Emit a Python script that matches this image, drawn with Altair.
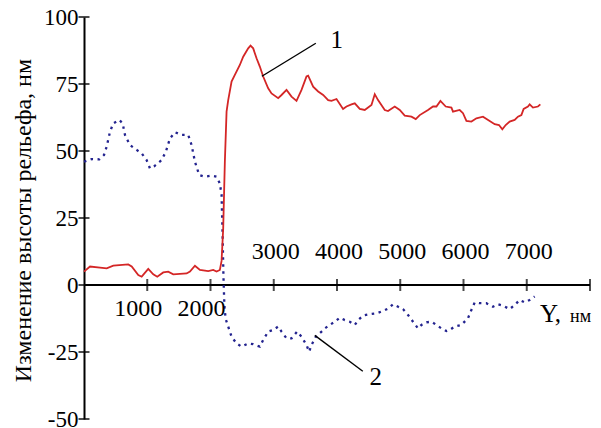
import altair as alt
import pandas as pd

# Curve 1 (red, solid)
red_x = [0, 95, 253, 359, 463, 700, 754, 858, 912, 1016, 1095, 1158, 1253, 1332, 1411,
         1623, 1675, 1754, 1833, 1964, 2043, 2096, 2148, 2175, 2201, 2227, 2254, 2280,
         2333, 2385, 2464, 2517, 2596, 2633, 2675, 2728, 2780, 2833, 2912, 2965, 3070,
         3123, 3202, 3281, 3360, 3439, 3518, 3544, 3623, 3702, 3781, 3860, 3913, 3992,
         4096, 4150, 4229, 4281, 4360, 4439, 4545, 4597, 4649, 4755, 4807, 4913, 4992,
         5071, 5177, 5245, 5308, 5439, 5518, 5572, 5635, 5719, 5809, 5834, 5940, 5992,
         6046, 6125, 6204, 6308, 6414, 6493, 6561, 6614, 6667, 6730, 6809, 6861, 6915,
         6951, 7019, 7046, 7098, 7177, 7215]
red_y = [5.0, 6.9, 6.5, 6.2, 7.2, 7.7, 6.9, 3.7, 3.1, 6.0, 4.0, 3.1, 4.7, 5.0, 4.0,
         4.3, 5.0, 7.2, 5.6, 5.2, 5.6, 5.0, 5.6, 9.0, 21.2, 46.0, 64.7, 69.0,
         75.9, 78.4, 82.1, 85.2, 88.3, 89.3, 88.3, 84.6, 81.5, 77.8, 73.4, 71.5, 69.7,
         70.9, 72.8, 70.3, 68.7, 72.8, 77.8, 78.1, 74.0, 72.2, 70.9, 69.0, 68.7, 69.4,
         65.7, 66.6, 67.4, 67.8, 65.7, 65.3, 67.2, 71.2, 69.0, 65.3, 64.9, 66.6, 65.3,
         63.2, 62.8, 61.9, 63.4, 65.3, 66.6, 66.6, 68.7, 66.6, 66.2, 64.7, 65.3, 64.1,
         61.2, 61.0, 62.2, 62.8, 61.2, 60.0, 59.7, 58.1, 59.7, 61.0, 61.6, 62.8, 63.4,
         65.7, 66.6, 67.4, 66.2, 66.6, 67.4]

# Curve 2 (blue, dotted)
blue_x = [0, 121, 242, 316, 358, 411, 463, 558, 611, 648, 727, 833, 912, 990, 1043,
          1106, 1227, 1295, 1359, 1438, 1543, 1648, 1701, 1754, 1822, 1911, 2017, 2096,
          2148, 2175, 2190, 2205, 2220, 2240, 2280, 2333, 2412, 2491, 2596, 2675, 2780,
          2833, 2912, 2991, 3070, 3123, 3202, 3281, 3370, 3439, 3518, 3559, 3597, 3665,
          3755, 3807, 3886, 3965, 4044, 4123, 4202, 4281, 4333, 4412, 4518, 4624, 4728,
          4807, 4886, 4965, 5044, 5123, 5202, 5281, 5335, 5414, 5493, 5572, 5651, 5730,
          5782, 5861, 5967, 6071, 6125, 6177, 6256, 6361, 6466, 6545, 6624, 6730, 6809,
          6888, 6967, 7046, 7125]
blue_y = [46.0, 47.0, 46.9, 48.5, 51.6, 57.2, 60.3, 61.6, 60.3, 56.0, 52.2, 50.4, 49.1, 46.6, 43.5,
          44.2, 46.6, 49.8, 54.7, 57.0, 56.0, 56.0, 52.2, 46.0, 41.0, 40.4, 40.8, 40.4,
          37.9, 33.6, 20.0, 3.0, -8.0, -12.7, -15.5, -19.3, -21.8, -23.0, -21.8, -22.1, -23.0,
          -20.5, -17.4, -16.8, -15.5, -17.4, -19.9, -19.9, -17.4, -19.3, -22.4, -24.9, -22.4, -19.3,
          -17.4, -16.2, -14.9, -13.7, -12.2, -13.1, -13.7, -14.9, -13.1, -11.4, -10.9, -10.6, -9.7,
          -8.8, -7.2, -8.1, -9.0, -11.2, -13.7, -16.2, -14.9, -13.9, -13.7, -14.9, -16.2, -17.2,
          -16.8, -15.5, -14.9, -12.4, -9.3, -6.5, -6.8, -6.8, -8.1, -7.2, -7.7, -9.0, -7.5,
          -5.6, -6.5, -5.6, -4.3]

y_ticks = [-50, -25, 0, 25, 50, 75, 100]
x_ticks = [1000, 2000, 3000, 4000, 5000, 6000, 7000, 8000]
x_labels_below = [1000, 2000]
x_labels_above = [3000, 4000, 5000, 6000, 7000]
x_domain = [0, 8000]
y_domain = [-50, 100]

# annotation leader lines and labels (data coordinates)
lead_x = [2812, 3649]
lead_y = [77.9, -18.8]
lead_x2 = [3665, 4408]
lead_y2 = [90.2, -32.2]
ann_text = ["1", "2"]
ann_x = [3997, 4613]
ann_y = [91.3, -34.3]

# x-axis name, split in two parts of different size
xname_text = ["Y,", "нм"]
xname_x = [7209, 7684]
xname_y = [-13.9, -13.9]
xname_size = [25, 18]

FONT = "Liberation Serif"
RED = "#d42626"
BLUE = "#23238f"

xs = alt.Scale(domain=x_domain, nice=False, zero=False)
ys = alt.Scale(domain=y_domain, nice=False, zero=False)

red_df = pd.DataFrame({"x": red_x, "y": red_y})
blue_df = pd.DataFrame({"x": blue_x, "y": blue_y})

yaxis = alt.Axis(values=y_ticks, grid=False, ticks=False, tickSize=0, labelPadding=6,
                 labelFont=FONT, labelFontSize=23, labelColor="black",
                 labelExpr="toString(datum.value)",
                 domainColor="black", domainWidth=2,
                 title="Изменение высоты рельефа, нм", titleFont=FONT, titleFontSize=24,
                 titleFontWeight="normal", titleColor="black",
                 titleX=-61, titleY=203, titleAngle=270, titleAlign="center",
                 titleBaseline="middle")

blue = alt.Chart(blue_df).mark_line(color=BLUE, strokeWidth=2.3, strokeDash=[2.5, 4.5]).encode(
    x=alt.X("x:Q", scale=xs, axis=None),
    y=alt.Y("y:Q", scale=ys, axis=yaxis),
    order="x:Q",
)
red = alt.Chart(red_df).mark_line(color=RED, strokeWidth=1.8).encode(
    x=alt.X("x:Q", scale=xs, axis=None),
    y=alt.Y("y:Q", scale=ys, axis=yaxis),
    order="x:Q",
)

xline = alt.Chart(pd.DataFrame({"x": [x_domain[0]], "x2": [x_domain[1]], "y": [0]})).mark_rule(
    color="black", strokeWidth=2).encode(x=alt.X("x:Q", scale=xs, axis=None), x2="x2:Q",
                                         y=alt.Y("y:Q", scale=ys))

xt = alt.Chart(pd.DataFrame({"x": x_ticks, "y": [0] * len(x_ticks)})).mark_tick(
    color="black", orient="vertical", size=12, thickness=2).encode(
    x=alt.X("x:Q", scale=xs, axis=None), y=alt.Y("y:Q", scale=ys))

yt = alt.Chart(pd.DataFrame({"x": [0] * len(y_ticks), "y": y_ticks})).mark_tick(
    color="black", orient="horizontal", size=11, thickness=2).encode(
    x=alt.X("x:Q", scale=xs, axis=None), y=alt.Y("y:Q", scale=ys))

lab_below = alt.Chart(pd.DataFrame({"x": x_labels_below, "y": [0] * len(x_labels_below)})).mark_text(
    font=FONT, fontSize=24, color="black", dx=-9, dy=24, baseline="middle", align="center").encode(
    x=alt.X("x:Q", scale=xs, axis=None), y=alt.Y("y:Q", scale=ys), text=alt.Text("x:Q", format="d"))

lab_above = alt.Chart(pd.DataFrame({"x": x_labels_above, "y": [0] * len(x_labels_above)})).mark_text(
    font=FONT, fontSize=24, color="black", dx=2, dy=-33, baseline="middle", align="center").encode(
    x=alt.X("x:Q", scale=xs, axis=None), y=alt.Y("y:Q", scale=ys), text=alt.Text("x:Q", format="d"))

leaders = alt.Chart(pd.DataFrame({"x": lead_x, "y": lead_y, "x2": lead_x2, "y2": lead_y2})).mark_rule(
    color="black", strokeWidth=1.4).encode(
    x=alt.X("x:Q", scale=xs, axis=None), y=alt.Y("y:Q", scale=ys), x2="x2:Q", y2="y2:Q")

ann = alt.Chart(pd.DataFrame({"x": ann_x, "y": ann_y, "t": ann_text})).mark_text(
    font=FONT, fontSize=25, color="black", baseline="middle", align="center").encode(
    x=alt.X("x:Q", scale=xs, axis=None), y=alt.Y("y:Q", scale=ys), text="t:N")

xname = alt.Chart(pd.DataFrame({"x": xname_x, "y": xname_y, "t": xname_text,
                                "s": xname_size})).mark_text(
    font=FONT, color="black", baseline="alphabetic", align="left").encode(
    x=alt.X("x:Q", scale=xs, axis=None), y=alt.Y("y:Q", scale=ys), text="t:N",
    size=alt.Size("s:Q", scale=None, legend=None))

chart = alt.layer(xline, xt, blue, red, yt, lab_below, lab_above, leaders, ann, xname).properties(
    width=506, height=402,
    autosize=alt.AutoSizeParams(type="none"),
    padding={"left": 76, "top": 9, "right": 3, "bottom": 9},
).configure_view(stroke=None)

chart.save("out.html", embed_options={"renderer": "svg", "actions": False})
